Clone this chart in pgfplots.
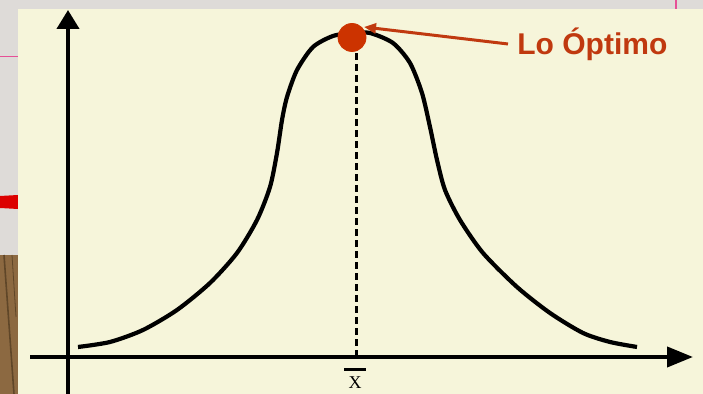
\documentclass[border=0pt]{standalone}
\usepackage{pgfplots}
\pgfplotsset{compat=1.18}
\usepackage{fontspec}
\setmainfont{Liberation Serif}
\newfontfamily\arialbold{Liberation Sans}[BoldFont={Liberation Sans Bold}]
\usetikzlibrary{arrows.meta}

\definecolor{slidegrey}{RGB}{222,219,216}
\definecolor{cream}{RGB}{246,245,218}
\definecolor{slidepink}{RGB}{230,80,150}
\definecolor{slidered}{RGB}{220,0,0}
\definecolor{wood}{RGB}{140,105,65}
\definecolor{wooddark}{RGB}{95,70,40}
\definecolor{optdot}{RGB}{204,51,0}
\definecolor{opttext}{RGB}{192,57,15}

\begin{document}
\begin{tikzpicture}
\begin{axis}[
    width=351.5pt, height=197pt, scale only axis,
    xmin=0, xmax=703, ymin=-37, ymax=357,
    hide axis, clip=true,
]
% slide background
\fill[slidegrey] (0,-37) rectangle (703,357);
\fill[wood] (0,-37) rectangle (18,102);
\draw[wooddark, line width=0.8pt] (4,102) -- (14,-37);
\draw[wooddark, line width=0.4pt] (12,102) -- (16,40);
\draw[slidepink, line width=0.8pt] (0,300.5) -- (18,300.5);
\fill[slidered] (0,161) -- (18,162) -- (18,148) -- (0,149) -- cycle;
\draw[slidepink, line width=1pt] (676,357) -- (676,348);
% chart panel
\fill[cream] (18,-37) rectangle (703,348);

% axes
\draw[line width=2pt, -{Triangle[length=9.5pt, width=11pt]}] (68,-37) -- (68,347);
\draw[line width=2pt, -{Triangle[length=13pt, width=10pt]}] (30,0) -- (693,0);

% mean line
\draw[line width=1.5pt, dash pattern=on 3.5pt off 2pt] (356,0) -- (356,310);

% bell curve
\addplot[black, line width=2.1pt, smooth, tension=0.45] coordinates {
    (78,10) (110,15) (143,27) (177,47) (210,74) (237,104) (257,137)
    (270,170) (277,204) (282,237) (287,260) (297,287) (313,310)
    (333,321) (353,324) (370,324) (393,314) (410,294) (422,264)
    (430,230) (437,197) (445,167) (460,137) (483,104) (517,70)
    (550,44) (583,24) (610,15) (637,10)
};

% optimum point
\addplot[only marks, mark=*, mark size=7pt, color=optdot, mark options={draw=optdot, fill=optdot}]
    coordinates {(352,319.5)};
\draw[opttext, line width=1.5pt, -{Triangle[length=6pt, width=5pt]}] (508,313) -- (364,330);
\node[anchor=north, inner sep=0pt, text=opttext,
      font={\arialbold\bfseries\fontsize{15}{18}\selectfont}, anchor=base west] at (517,302) {Lo Óptimo};

% x-bar label
\draw[line width=1.5pt] (344,-13) -- (366,-13);
\node[anchor=north, inner sep=0pt, font={\fontsize{9}{11}\selectfont}] at (355,-19) {X};
\end{axis}
\end{tikzpicture}
\end{document}
